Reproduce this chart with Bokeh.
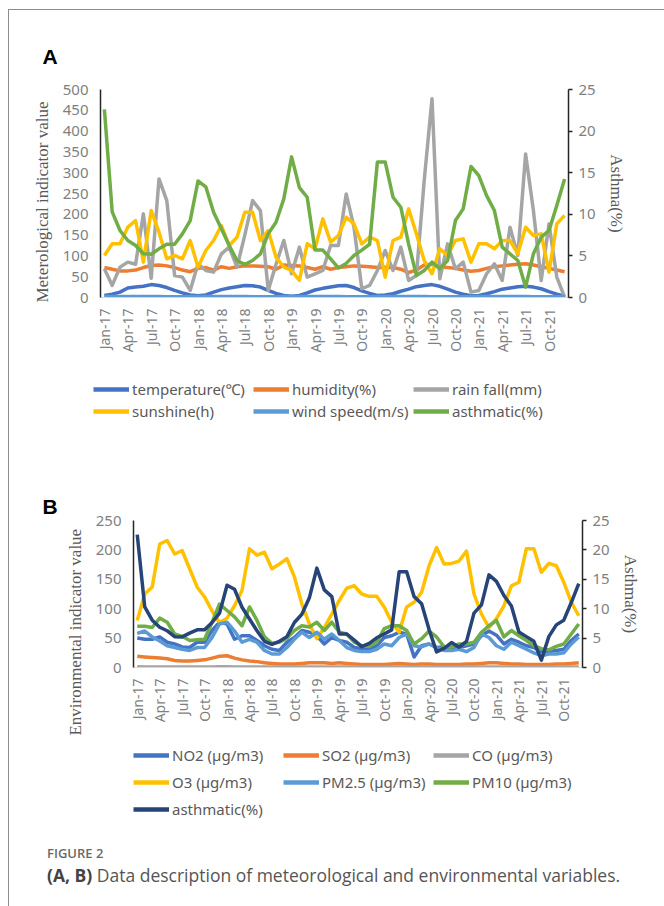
import numpy as np
from bokeh.plotting import figure
from bokeh.models import Range1d, LinearAxis, FixedTicker, Legend, LegendItem, Div
from bokeh.embed import file_html
from bokeh.resources import INLINE

# ---------------- data ----------------
tick_labels = ["Jan-17", "Apr-17", "Jul-17", "Oct-17", "Jan-18", "Apr-18", "Jul-18", "Oct-18",
               "Jan-19", "Apr-19", "Jul-19", "Oct-19", "Jan-20", "Apr-20", "Jul-20", "Oct-20",
               "Jan-21", "Apr-21", "Jul-21", "Oct-21"]
month_index = list(range(60))          # Jan-17 ... Dec-21
tick_index = list(range(0, 60, 3))

temperature = [5, 8, 13, 23, 25, 27, 31, 29, 24, 17, 11, 6,
               4, 6, 13, 19, 23, 26, 29, 28, 25, 17, 10, 5,
               3, 5, 11, 18, 22, 25, 28, 29, 24, 16, 10, 5,
               6, 9, 15, 20, 26, 29, 31, 27, 20, 13, 8, 4,
               5, 9, 14, 20, 23, 26, 27, 25, 21, 14, 8, 3]
humidity = [72, 68, 64, 64, 66, 72, 77, 78, 76, 72, 66, 62,
            70, 72, 66, 74, 70, 74, 76, 76, 75, 74, 68, 78,
            77, 76, 72, 68, 74, 68, 72, 74, 76, 75, 74, 72,
            73, 72, 68, 60, 66, 78, 80, 74, 72, 70, 66, 63,
            65, 70, 74, 76, 78, 80, 81, 78, 74, 70, 66, 62]
rainfall = [69, 29, 73, 85, 80, 201, 46, 285, 233, 53, 49, 17,
            81, 65, 61, 105, 121, 73, 150, 233, 209, 17, 80, 137,
            57, 121, 49, 57, 65, 125, 125, 249, 169, 21, 29, 65,
            113, 65, 121, 41, 53, 281, 478, 45, 129, 69, 85, 13,
            17, 57, 81, 41, 169, 101, 345, 209, 41, 177, 49, 1]
sunshine = [101, 129, 129, 169, 185, 85, 209, 157, 93, 101, 93, 137,
            73, 113, 137, 173, 125, 145, 205, 205, 137, 161, 97, 73,
            65, 41, 129, 117, 189, 133, 149, 193, 177, 129, 145, 137,
            49, 137, 145, 213, 153, 89, 57, 117, 101, 137, 141, 85,
            129, 129, 117, 137, 137, 105, 169, 149, 153, 61, 177, 197]
wind_speed = [2.3, 2.4, 2.5, 2.6, 2.4, 2.2, 2.3, 2.2, 2.1, 2.0, 2.1, 2.2,
              2.3, 2.4, 2.5, 2.5, 2.3, 2.2, 2.2, 2.1, 2.0, 2.0, 2.1, 2.2,
              2.2, 2.4, 2.5, 2.4, 2.3, 2.2, 2.2, 2.1, 2.0, 2.1, 2.1, 2.2,
              2.2, 2.3, 2.4, 2.4, 2.3, 2.2, 2.1, 2.1, 2.0, 2.0, 2.1, 2.2,
              2.3, 2.4, 2.5, 2.4, 2.3, 2.2, 2.2, 2.1, 2.0, 2.0, 2.1, 2.2]
asthmatic = [22.6, 10.3, 8.05, 6.85, 6.25, 5.25, 5.2, 5.85, 6.4, 6.4, 7.65, 9.25,
             14.0, 13.3, 10.25, 8.25, 6.25, 4.45, 3.95, 4.45, 5.25, 7.65, 9.05, 11.85,
             16.9, 13.2, 12.05, 5.7, 5.7, 4.65, 3.55, 4.1, 5.05, 5.7, 6.4, 16.3,
             16.3, 12.05, 10.85, 6.45, 2.65, 3.25, 4.25, 3.45, 4.45, 9.25, 10.65, 15.75,
             14.65, 12.25, 10.45, 6.05, 5.25, 4.45, 1.25, 5.25, 7.25, 8.05, 11.05, 14.25]

no2 = [50, 48, 48, 52, 43, 40, 35, 34, 43, 43, 63, 77,
       74, 48, 54, 54, 46, 37, 31, 29, 43, 51, 63, 60,
       54, 40, 51, 46, 43, 34, 32, 31, 37, 51, 54, 60,
       57, 18, 37, 40, 34, 35, 31, 34, 37, 40, 54, 62,
       55, 40, 48, 43, 37, 34, 27, 27, 29, 31, 46, 57]
so2 = [19, 18, 17, 16, 15, 12, 11, 11, 12, 13, 16, 19,
       20, 16, 13, 11, 10, 8, 7, 6, 6, 6, 7, 8,
       8, 8, 7, 8, 7, 6, 5, 5, 5, 5, 6, 7,
       6, 5, 6, 6, 5, 5, 5, 5, 6, 6, 7, 8,
       8, 7, 6, 6, 5, 5, 5, 5, 6, 6, 7, 8]
co = [1.1, 1.0, 0.9, 0.9, 0.8, 0.8, 0.8, 0.8, 0.8, 0.9, 1.0, 1.1,
      1.1, 1.0, 0.9, 0.8, 0.8, 0.7, 0.7, 0.7, 0.8, 0.8, 0.9, 1.0,
      1.0, 0.9, 0.8, 0.8, 0.7, 0.7, 0.7, 0.7, 0.8, 0.8, 0.9, 1.0,
      0.9, 0.8, 0.8, 0.7, 0.7, 0.7, 0.7, 0.7, 0.7, 0.8, 0.9, 1.0,
      0.9, 0.8, 0.8, 0.7, 0.7, 0.7, 0.7, 0.7, 0.7, 0.8, 0.8, 0.9]
o3 = [80, 125, 137, 210, 216, 193, 199, 168, 137, 120, 96, 76,
      84, 105, 131, 202, 191, 196, 168, 176, 185, 154, 108, 74,
      49, 68, 91, 114, 135, 139, 125, 121, 121, 103, 77, 60,
      103, 111, 128, 173, 204, 176, 177, 181, 198, 125, 91, 68,
      83, 105, 139, 145, 202, 202, 162, 177, 173, 145, 111, 88]
pm25 = [58, 62, 52, 45, 37, 34, 31, 29, 34, 34, 51, 74,
        77, 62, 43, 48, 43, 29, 23, 23, 34, 48, 60, 51,
        60, 48, 57, 46, 34, 29, 27, 27, 31, 40, 37, 51,
        57, 37, 35, 40, 34, 29, 29, 31, 27, 34, 57, 51,
        37, 31, 43, 37, 31, 25, 20, 23, 23, 25, 40, 52]
pm10 = [70, 70, 68, 84, 77, 57, 53, 46, 47, 48, 77, 108,
        97, 86, 71, 103, 80, 52, 41, 43, 50, 63, 71, 69,
        77, 63, 77, 60, 57, 43, 37, 36, 43, 66, 71, 71,
        63, 40, 49, 62, 52, 35, 35, 40, 40, 43, 60, 71,
        80, 52, 63, 54, 46, 37, 32, 30, 36, 40, 57, 74]

# ---------------- styling helpers ----------------
TICK_FONT = "Noto Sans"
TICK_COLOR = "#7f7f7f"
LBL_FONT = "Liberation Serif"
LBL_COLOR = "#595959"
LW = 3.5
W = 660
EN = "\u2002"   # en space, used to nudge the centred axis titles along the axis


def style_bottom(ax):
    ax.ticker = FixedTicker(ticks=tick_index)
    ax.major_label_overrides = {i: t for i, t in zip(tick_index, tick_labels)}
    ax.major_label_orientation = np.pi / 2
    ax.axis_line_color = "#d9d9d9"
    ax.major_tick_line_color = None
    ax.minor_tick_line_color = None
    ax.major_label_text_font = TICK_FONT
    ax.major_label_text_font_size = "14px"
    ax.major_label_text_color = TICK_COLOR
    ax.major_label_standoff = 5


def style_value_axis(ax, ticks, label, ticks_out):
    ax.ticker = FixedTicker(ticks=ticks)
    ax.axis_line_color = "#262626"
    ax.axis_line_width = 1.5
    if ticks_out:
        ax.major_tick_line_color = "#262626"
        ax.major_tick_line_width = 1.5
        ax.major_tick_out = 4
        ax.major_tick_in = 0
    else:
        ax.major_tick_line_color = None
    ax.minor_tick_line_color = None
    ax.major_label_text_font = TICK_FONT
    ax.major_label_text_font_size = "15px"
    ax.major_label_text_color = TICK_COLOR
    ax.major_label_standoff = 6
    ax.axis_label = label
    ax.axis_label_text_font = LBL_FONT
    ax.axis_label_text_font_size = "17px"
    ax.axis_label_text_font_style = "normal"
    ax.axis_label_text_color = LBL_COLOR
    ax.axis_label_standoff = 8


def base_fig(height, left, right, top, bottom, ymax, letter, title_offset, title_standoff):
    p = figure(width=W, height=height, x_range=Range1d(-0.5, 59.5), y_range=Range1d(0, ymax),
               output_backend="svg", toolbar_location=None,
               min_border_left=left, min_border_right=right,
               min_border_top=top, min_border_bottom=bottom)
    p.extra_y_ranges = {"asthma": Range1d(0, 25)}
    p.xgrid.visible = False
    p.ygrid.visible = False
    p.outline_line_color = None
    p.background_fill_color = None
    p.border_fill_color = None
    p.title.text = letter
    p.title.text_font = "Liberation Sans"
    p.title.text_font_size = "21px"
    p.title.text_font_style = "bold"
    p.title.text_color = "black"
    p.title.align = "left"
    p.title.offset = title_offset
    p.title.standoff = title_standoff
    return p


def legend_fig(height, specs, x, y, label_w, row_h, spacing):
    lf = figure(width=W, height=height, x_range=Range1d(0, 1), y_range=Range1d(0, 1),
                x_axis_type=None, y_axis_type=None, output_backend="svg",
                toolbar_location=None, min_border=0)
    lf.grid.visible = False
    lf.outline_line_color = None
    lf.background_fill_color = None
    lf.border_fill_color = None
    items = []
    for name, col in specs:
        # placeholder renderer (no visible data) that only supplies the legend swatch
        r = lf.line([np.nan, np.nan], [np.nan, np.nan], line_color=col, line_width=4.5)
        items.append(LegendItem(label=name, renderers=[r]))
    leg = Legend(items=items, orientation="horizontal", ncols=3, location=(x, y),
                 margin=0, padding=0, glyph_width=36, glyph_height=row_h, label_standoff=3,
                 label_width=label_w, label_height=row_h, spacing=spacing,
                 background_fill_alpha=0, border_line_color=None,
                 label_text_font=TICK_FONT, label_text_font_size="15px",
                 label_text_color="#595959")
    lf.add_layout(leg, "center")
    return lf


# ---------------- panel A ----------------
pA = base_fig(365, 100, 92, 89, 68, 500, "A", -58, 44)
style_bottom(pA.xaxis[0])
style_value_axis(pA.yaxis[0], list(range(0, 501, 50)), "Meterological indicator value" + EN * 2, False)
rA = LinearAxis(y_range_name="asthma")
style_value_axis(rA, list(range(0, 26, 5)), "Asthma(%)", True)
pA.add_layout(rA, "right")

seriesA = [("temperature(℃)", temperature, "#4472C4", "default"),
           ("humidity(%)", humidity, "#ED7D31", "default"),
           ("rain fall(mm)", rainfall, "#A5A5A5", "default"),
           ("sunshine(h)", sunshine, "#FFC000", "default"),
           ("wind speed(m/s)", wind_speed, "#5B9BD5", "default"),
           ("asthmatic(%)", asthmatic, "#70AD47", "asthma")]
for name, vals, col, rng in seriesA:
    pA.line(month_index, vals, line_color=col, line_width=LW, y_range_name=rng, line_join="round")

legA = legend_fig(60, [(s[0], s[2]) for s in seriesA], 93, 4, 119, 18, 2)

# ---------------- panel B ----------------
pB = base_fig(319, 133, 78, 95, 77, 250, "B", -91, 5)
style_bottom(pB.xaxis[0])
style_value_axis(pB.yaxis[0], list(range(0, 251, 50)), "Environmental indicator value" + EN * 9, False)
rB = LinearAxis(y_range_name="asthma")
style_value_axis(rB, list(range(0, 26, 5)), "Asthma(%)", True)
pB.add_layout(rB, "right")

seriesB = [("NO2 (µg/m3)", no2, "#4472C4", "default"),
           ("SO2 (µg/m3)", so2, "#ED7D31", "default"),
           ("CO (µg/m3)", co, "#A5A5A5", "default"),
           ("O3 (µg/m3)", o3, "#FFC000", "default"),
           ("PM2.5 (µg/m3)", pm25, "#5B9BD5", "default"),
           ("PM10 (µg/m3)", pm10, "#70AD47", "default"),
           ("asthmatic(%)", asthmatic, "#264478", "asthma")]
for name, vals, col, rng in seriesB:
    pB.line(month_index, vals, line_color=col, line_width=LW, y_range_name=rng, line_join="round")

legB = legend_fig(91, [(s[0], s[2]) for s in seriesB], 133, 15, 106, 22, 5)

# ---------------- caption ----------------
cap_html = (
    '<div style="position:fixed;left:8px;top:9px;width:700px;height:1000px;'
    'border-top:1px solid #8c8c8c;border-left:1px solid #8c8c8c;pointer-events:none;"></div>'
    '<div style="font-family:\'Open Sans\',sans-serif;color:#6a6a6a;font-size:13px;font-weight:600;'
    'line-height:18px;margin:4px 0 0 42px;">FIGURE 2</div>'
    '<div style="font-family:\'Open Sans\',sans-serif;color:#555555;font-size:17.5px;'
    'line-height:24px;margin:1px 0 0 42px;white-space:nowrap;">'
    '<b style="color:#444444;">(A, B)</b> Data description of meteorological and environmental variables.</div>'
)
cap = Div(text=cap_html, width=W, height=65)

open("out.html", "w").write(file_html([pA, legA, pB, legB, cap], INLINE))
